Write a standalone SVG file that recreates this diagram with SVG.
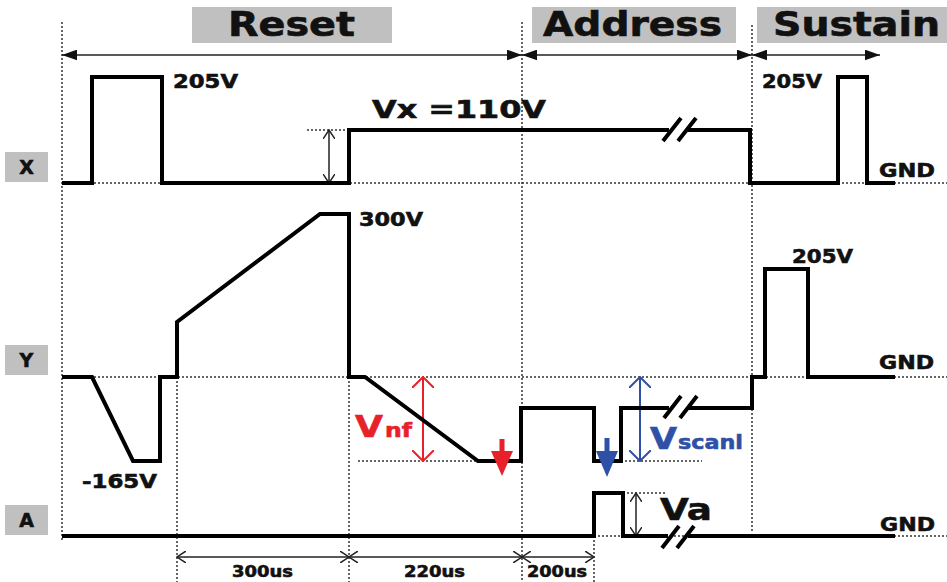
<svg xmlns="http://www.w3.org/2000/svg" width="947" height="582" viewBox="0 0 947 582">
<style>
.hdr{fill:#c0c0c0}
.lbl{fill:#c0c0c0}
.t{font-family:"DejaVu Sans","Liberation Sans",sans-serif;font-weight:bold;fill:#111;stroke:#111;stroke-width:0.6}
.red{fill:#e8202a;stroke:#e8202a}
.blue{fill:#2e50a6;stroke:#2e50a6}
.dot{stroke:#333;stroke-width:1.5;stroke-dasharray:2 2;fill:none}
.wave{stroke:#000;stroke-width:4;fill:none;stroke-linejoin:miter;stroke-linecap:butt}
.dim{stroke:#222;stroke-width:1.5;fill:none}
.brk{stroke:#000;stroke-width:4;fill:none}
</style>
<defs>
<marker id="arrF" viewBox="0 0 14 10" markerUnits="userSpaceOnUse" markerWidth="15" markerHeight="11" refX="14" refY="5" orient="auto-start-reverse"><path d="M0,0 L14,5 L0,10 z" fill="#111"/></marker>
<marker id="arrO" viewBox="0 0 10 12" markerUnits="userSpaceOnUse" markerWidth="10" markerHeight="12" refX="9" refY="6" orient="auto-start-reverse"><path d="M0,0 L9,6 L0,12" fill="none" stroke="#222" stroke-width="1.5"/></marker>
<marker id="arrR" viewBox="0 0 12 22" markerUnits="userSpaceOnUse" markerWidth="12" markerHeight="22" refX="11" refY="11" orient="auto-start-reverse"><path d="M0,0 L11,11 L0,22" fill="none" stroke="#e8202a" stroke-width="2"/></marker>
<marker id="arrB" viewBox="0 0 12 22" markerUnits="userSpaceOnUse" markerWidth="12" markerHeight="22" refX="11" refY="11" orient="auto-start-reverse"><path d="M0,0 L11,11 L0,22" fill="none" stroke="#2e50a6" stroke-width="2"/></marker>
</defs>

<g id="headers">
<rect class="hdr" x="192" y="7" width="200" height="36"/>
<text class="t" x="228" y="36" font-size="33" textLength="127" lengthAdjust="spacingAndGlyphs">Reset</text>
<rect class="hdr" x="532" y="7" width="204" height="36"/>
<text class="t" x="543" y="36" font-size="33" textLength="179" lengthAdjust="spacingAndGlyphs">Address</text>
<rect class="hdr" x="757" y="7" width="190" height="36"/>
<text class="t" x="773" y="36" font-size="33" textLength="167" lengthAdjust="spacingAndGlyphs">Sustain</text>
</g>

<g id="labels">
<g id="label-X"><rect class="lbl" x="5" y="152" width="43" height="30"/><text class="t" x="26.5" y="174" font-size="19" text-anchor="middle">X</text></g>
<g id="label-Y"><rect class="lbl" x="5" y="345" width="43" height="30"/><text class="t" x="26.5" y="367" font-size="19" text-anchor="middle">Y</text></g>
<g id="label-A"><rect class="lbl" x="5" y="505" width="43" height="30"/><text class="t" x="26.5" y="527" font-size="19" text-anchor="middle">A</text></g>
</g>

<g id="gridlines">
<line class="dot" x1="62" y1="22" x2="62" y2="540"/>
<line class="dot" x1="522" y1="22" x2="522" y2="582"/>
<line class="dot" x1="752" y1="25" x2="752" y2="533"/>
<line class="dot" x1="177" y1="377" x2="177" y2="582"/>
<line class="dot" x1="349" y1="377" x2="349" y2="582"/>
<line class="dot" x1="594" y1="536" x2="594" y2="582"/>
<line class="dot" x1="62" y1="183" x2="947" y2="183"/>
<line class="dot" x1="62" y1="377" x2="947" y2="377"/>
<line class="dot" x1="62" y1="536" x2="947" y2="536"/>
<line class="dot" x1="307" y1="130" x2="349" y2="130"/>
<line class="dot" x1="358" y1="461" x2="478" y2="461"/>
<line class="dot" x1="621" y1="461" x2="702" y2="461"/>
<line class="dot" x1="623" y1="493" x2="665" y2="493"/>
</g>

<g id="connectors">
<line class="dim" x1="62" y1="55" x2="522" y2="55" stroke-width="2" marker-start="url(#arrF)" marker-end="url(#arrF)"/>
<line class="dim" x1="522" y1="55" x2="752" y2="55" stroke-width="2" marker-start="url(#arrF)" marker-end="url(#arrF)"/>
<line class="dim" x1="752" y1="55" x2="880" y2="55" stroke-width="2" marker-start="url(#arrF)" marker-end="url(#arrF)"/>
<line class="dim" x1="177" y1="557" x2="349" y2="557" marker-start="url(#arrO)" marker-end="url(#arrO)"/>
<line class="dim" x1="349" y1="557" x2="522" y2="557" marker-start="url(#arrO)" marker-end="url(#arrO)"/>
<line class="dim" x1="522" y1="557" x2="594" y2="557" marker-start="url(#arrO)" marker-end="url(#arrO)"/>
<line class="dim" x1="329" y1="130" x2="329" y2="183" marker-start="url(#arrO)" marker-end="url(#arrO)"/>
<line class="dim" x1="636" y1="493" x2="636" y2="536" marker-start="url(#arrO)" marker-end="url(#arrO)"/>
<line x1="423" y1="377" x2="423" y2="461" stroke="#e8202a" stroke-width="2" marker-start="url(#arrR)" marker-end="url(#arrR)"/>
<line x1="640" y1="377" x2="640" y2="461" stroke="#2e50a6" stroke-width="2" marker-start="url(#arrB)" marker-end="url(#arrB)"/>
</g>

<g id="wave-X">
<path class="wave" d="M62,183 H92 V77 H162 V183 H349 V130 H669"/>
<path class="wave" d="M688,130 H750 V183 H838 V77 H867 V183 H895"/>
<path class="brk" d="M663,141 L681,118 M678,141 L696,118"/>
</g>

<g id="wave-Y">
<path class="wave" d="M62,377 H92 L133,461 H160 V377 H177 V322 L320,214 H349 V377 H365 L478,461 H521 V408 H594 V461 H621 V408 H669"/>
<path class="wave" d="M688,408 H752 V377 H765 V269 H808 V377 H895"/>
<path class="brk" d="M664,418 L681,396 M680,418 L697,396"/>
</g>

<g id="wave-A">
<path class="wave" d="M62,536 H594 V493 H623 V536 H668"/>
<path class="wave" d="M688,536 H895"/>
<path class="brk" d="M662,548 L679,526 M677,548 L694,526"/>
</g>

<g id="markers">
<path d="M499.5,439 H504.5 V451 H513 L502,476 L491,451 H499.5 Z" fill="#e8202a"/>
<path d="M604.5,438 H609.5 V451 H618 L607,477 L596,451 H604.5 Z" fill="#2e50a6"/>
</g>

<g id="values">
<text class="t" x="173" y="88" font-size="19" textLength="65" lengthAdjust="spacingAndGlyphs">205V</text>
<text class="t" x="372" y="118" font-size="25" textLength="174" lengthAdjust="spacingAndGlyphs">Vx =110V</text>
<text class="t" x="762" y="88" font-size="19" textLength="60" lengthAdjust="spacingAndGlyphs">205V</text>
<text class="t" x="879" y="177" font-size="19" textLength="56" lengthAdjust="spacingAndGlyphs">GND</text>
<text class="t" x="359" y="226" font-size="19" textLength="64" lengthAdjust="spacingAndGlyphs">300V</text>
<text class="t" x="792" y="263" font-size="19" textLength="61" lengthAdjust="spacingAndGlyphs">205V</text>
<text class="t" x="879" y="369" font-size="19" textLength="55" lengthAdjust="spacingAndGlyphs">GND</text>
<text class="t" x="82" y="488" font-size="19" textLength="75" lengthAdjust="spacingAndGlyphs">-165V</text>
<text class="t" x="880" y="531" font-size="19" textLength="55" lengthAdjust="spacingAndGlyphs">GND</text>
<text class="t" x="660" y="520" font-size="31" textLength="52" lengthAdjust="spacingAndGlyphs">Va</text>
<text class="t" x="232" y="577" font-size="16" textLength="61" lengthAdjust="spacingAndGlyphs">300us</text>
<text class="t" x="404" y="577" font-size="16" textLength="61" lengthAdjust="spacingAndGlyphs">220us</text>
<text class="t" x="527" y="577" font-size="16" textLength="60" lengthAdjust="spacingAndGlyphs">200us</text>
<text class="t red" x="355" y="437" font-size="30" textLength="28" lengthAdjust="spacingAndGlyphs">V</text>
<text class="t red" x="385" y="437" font-size="20" textLength="27" lengthAdjust="spacingAndGlyphs">nf</text>
<text class="t blue" x="650" y="449" font-size="30" textLength="27" lengthAdjust="spacingAndGlyphs">V</text>
<text class="t blue" x="678" y="449" font-size="20" textLength="65" lengthAdjust="spacingAndGlyphs">scanl</text>
</g>
</svg>
